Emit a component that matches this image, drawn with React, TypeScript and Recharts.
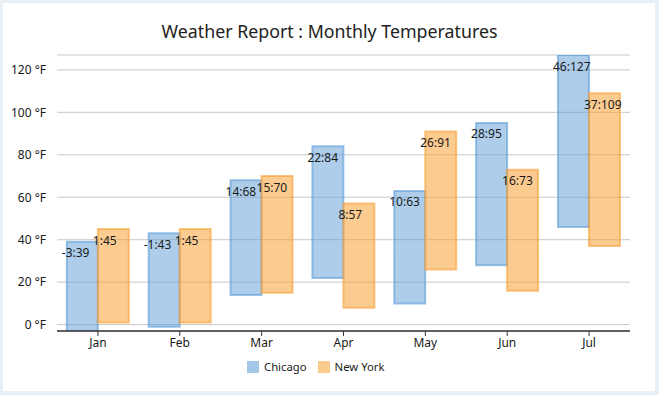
import React from 'react';
import { BarChart, Bar, XAxis, YAxis, CartesianGrid } from 'recharts';

const months = ['Jan', 'Feb', 'Mar', 'Apr', 'May', 'Jun', 'Jul'];
const chicagoLow = [-3, -1, 14, 22, 10, 28, 46];
const chicagoHigh = [39, 43, 68, 84, 63, 95, 127];
const newYorkLow = [1, 1, 15, 8, 26, 16, 37];
const newYorkHigh = [45, 45, 70, 57, 91, 73, 109];
const yTicks = [0, 20, 40, 60, 80, 100, 120];
const seriesNames = ['Chicago', 'New York'];

const data = months.map((m, i) => ({
  month: m,
  chicago: [chicagoLow[i], chicagoHigh[i]],
  newYork: [newYorkLow[i], newYorkHigh[i]],
}));

const allVals = [...chicagoLow, ...chicagoHigh, ...newYorkLow, ...newYorkHigh];
const yMin = Math.min(...allVals);
const yMax = Math.max(...allVals);

const FONT = '"Noto Sans", "Open Sans", sans-serif';

const BLUE = '#5b9bd5';
const ORANGE = '#f7a035';

const makeLabel = (lows: number[], highs: number[]) => (props: any) => {
  const { x, y, index } = props;
  const txt = `${lows[index]}:${highs[index]}`;
  return (
    <text
      x={x - 5}
      y={y + 11}
      textAnchor="start"
      dominantBaseline="central"
      fontSize={12}
      fontFamily={FONT}
      fill="#1a1a1a"
    >
      {txt}
    </text>
  );
};

const LegendBox = () => (
  <div
    style={{
      position: 'absolute',
      top: 359,
      left: 247,
      display: 'flex',
      fontFamily: FONT,
      fontSize: 11.3,
      color: '#1a1a1a',
    }}
  >
    {[
      { name: seriesNames[0], c: BLUE },
      { name: seriesNames[1], c: ORANGE },
    ].map((it) => (
      <div key={it.name} style={{ display: 'flex', alignItems: 'center', marginRight: 11 }}>
        <div
          style={{
            width: 10,
            height: 10,
            background: it.c,
            opacity: 0.55,
            border: `1px solid ${it.c}`,
            marginRight: 5,
          }}
        />
        <span>{it.name}</span>
      </div>
    ))}
  </div>
);

export default function App() {
  return (
    <div style={{ position: 'absolute', left: 0, top: 0, width: 659, height: 395, background: '#e8f0f5' }}>
      <div style={{ position: 'absolute', left: 3, top: 3, width: 652, height: 388, background: '#ffffff' }} />
      <div
        style={{
          position: 'absolute',
          left: 0,
          top: 19,
          width: 659,
          textAlign: 'center',
          fontFamily: FONT,
          fontSize: 17.8,
          color: '#222',
          lineHeight: '24px',
        }}
      >
        Weather Report : Monthly Temperatures
      </div>
      <div style={{ position: 'absolute', left: 0, top: 0 }}>
        <BarChart
          width={659}
          height={395}
          data={data}
          margin={{ top: 55, right: 29, bottom: 34, left: 0 }}
          barCategoryGap="12%"
          barGap={0}
        >
          <CartesianGrid horizontal vertical={false} stroke="#c8c8c8" />
          <XAxis
            dataKey="month"
            tick={{ fontSize: 12, fontFamily: FONT, fill: '#1a1a1a' }}
            axisLine={{ stroke: '#333', strokeWidth: 1.5 }}
            tickLine={{ stroke: '#333' }}
            tickSize={5}
            tickMargin={2}
            height={30}
          />
          <YAxis
            domain={[yMin, yMax]}
            ticks={yTicks}
            allowDataOverflow
            width={57}
            axisLine={false}
            tickLine={false}
            tick={{ fontSize: 12, fontFamily: FONT, fill: '#1a1a1a', dx: -3 }}
            tickFormatter={(v: number) => `${v} °F`}
          />
          <Bar
            dataKey="chicago"
            name={seriesNames[0]}
            fill={BLUE}
            fillOpacity={0.5}
            stroke={BLUE}
            strokeOpacity={0.6}
            strokeWidth={2}
            isAnimationActive={false}
            label={makeLabel(chicagoLow, chicagoHigh)}
          />
          <Bar
            dataKey="newYork"
            name={seriesNames[1]}
            fill={ORANGE}
            fillOpacity={0.55}
            stroke={ORANGE}
            strokeOpacity={0.6}
            strokeWidth={2}
            isAnimationActive={false}
            label={makeLabel(newYorkLow, newYorkHigh)}
          />
        </BarChart>
      </div>
      <LegendBox />
    </div>
  );
}
